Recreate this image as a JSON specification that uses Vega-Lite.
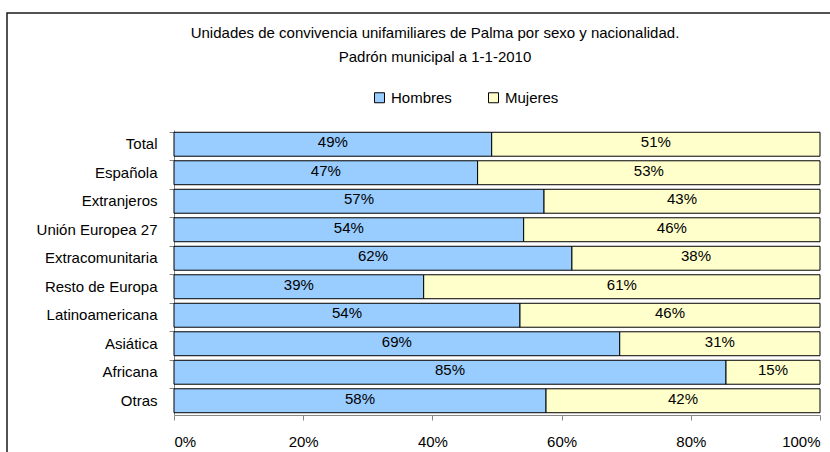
{
  "$schema": "https://vega.github.io/schema/vega-lite/v6.json",
  "width": 830,
  "height": 445,
  "autosize": {"type": "none"},
  "padding": {"left": 7, "top": 13, "right": 0, "bottom": 0},
  "background": "#ffffff",
  "title": {
    "text": ["Unidades de convivencia unifamiliares de Palma por sexo y nacionalidad.", "Padrón municipal a 1-1-2010"],
    "font": "Liberation Sans",
    "fontSize": 15,
    "fontWeight": "normal",
    "color": "#000000",
    "lineHeight": 24,
    "anchor": "middle",
    "baseline": "top",
    "offset": -52,
    "dx": 13
  },
  "data": {
    "values": [
      {"cat": "Total", "sexo": "Hombres", "v": 0.4918},
      {"cat": "Total", "sexo": "Mujeres", "v": 0.5082},
      {"cat": "Española", "sexo": "Hombres", "v": 0.470},
      {"cat": "Española", "sexo": "Mujeres", "v": 0.530},
      {"cat": "Extranjeros", "sexo": "Hombres", "v": 0.5728},
      {"cat": "Extranjeros", "sexo": "Mujeres", "v": 0.4272},
      {"cat": "Unión Europea 27", "sexo": "Hombres", "v": 0.5413},
      {"cat": "Unión Europea 27", "sexo": "Mujeres", "v": 0.4587},
      {"cat": "Extracomunitaria", "sexo": "Hombres", "v": 0.616},
      {"cat": "Extracomunitaria", "sexo": "Mujeres", "v": 0.384},
      {"cat": "Resto de Europa", "sexo": "Hombres", "v": 0.3865},
      {"cat": "Resto de Europa", "sexo": "Mujeres", "v": 0.6135},
      {"cat": "Latinoamericana", "sexo": "Hombres", "v": 0.5356},
      {"cat": "Latinoamericana", "sexo": "Mujeres", "v": 0.4644},
      {"cat": "Asiática", "sexo": "Hombres", "v": 0.690},
      {"cat": "Asiática", "sexo": "Mujeres", "v": 0.310},
      {"cat": "Africana", "sexo": "Hombres", "v": 0.8545},
      {"cat": "Africana", "sexo": "Mujeres", "v": 0.1455},
      {"cat": "Otras", "sexo": "Hombres", "v": 0.5759},
      {"cat": "Otras", "sexo": "Mujeres", "v": 0.4241}
    ]
  },
  "encoding": {
    "y": {
      "field": "cat",
      "type": "nominal",
      "sort": null,
      "scale": {"range": [117, 402], "paddingInner": 0.16, "paddingOuter": 0.08},
      "axis": {
        "title": null,
        "offset": -167,
        "labelFontSize": 15,
        "labelPadding": 12,
        "tickSize": 5,
        "bandPosition": 0,
        "domainColor": "#868686",
        "tickColor": "#868686"
      }
    }
  },
  "layer": [
    {
      "mark": {"type": "bar", "stroke": "#000000", "strokeWidth": 1},
      "encoding": {
        "x": {
          "field": "v",
          "type": "quantitative",
          "stack": "zero",
          "scale": {"domain": [0, 1], "range": [167, 813], "nice": false},
          "axis": {
            "title": null,
            "format": ".0%",
            "values": [0, 0.2, 0.4, 0.6, 0.8, 1],
            "offset": -43,
            "labelFontSize": 15,
            "labelPadding": 14,
            "tickSize": 5,
            "grid": false,
            "domainColor": "#868686",
            "tickColor": "#868686"
          }
        },
        "color": {
          "field": "sexo",
          "type": "nominal",
          "scale": {"domain": ["Hombres", "Mujeres"], "range": ["#99CCFF", "#FFFFCC"]},
          "legend": {
            "title": null,
            "orient": "none",
            "legendX": 365,
            "legendY": 77,
            "direction": "horizontal",
            "symbolType": "square",
            "symbolSize": 100,
            "symbolStrokeColor": "#000000",
            "symbolStrokeWidth": 1,
            "symbolOpacity": 1,
            "labelFontSize": 15,
            "labelOffset": 4,
            "columnPadding": 34
          }
        },
        "order": {"field": "sexo", "sort": "ascending"}
      }
    },
    {
      "mark": {"type": "text", "fontSize": 15, "color": "#000000", "baseline": "middle", "dy": -2},
      "encoding": {
        "x": {"field": "v", "type": "quantitative", "stack": "zero", "bandPosition": 0.5},
        "text": {"field": "v", "type": "quantitative", "format": ".0%"},
        "detail": {"field": "sexo", "type": "nominal"},
        "order": {"field": "sexo", "sort": "ascending"}
      }
    }
  ],
  "config": {
    "font": "Liberation Sans",
    "view": {"stroke": "#1a1a1a", "strokeWidth": 1.5},
    "axis": {"labelFont": "Liberation Sans", "labelColor": "#000000"},
    "legend": {"labelFont": "Liberation Sans", "labelColor": "#000000"},
    "text": {"font": "Liberation Sans"}
  }
}
